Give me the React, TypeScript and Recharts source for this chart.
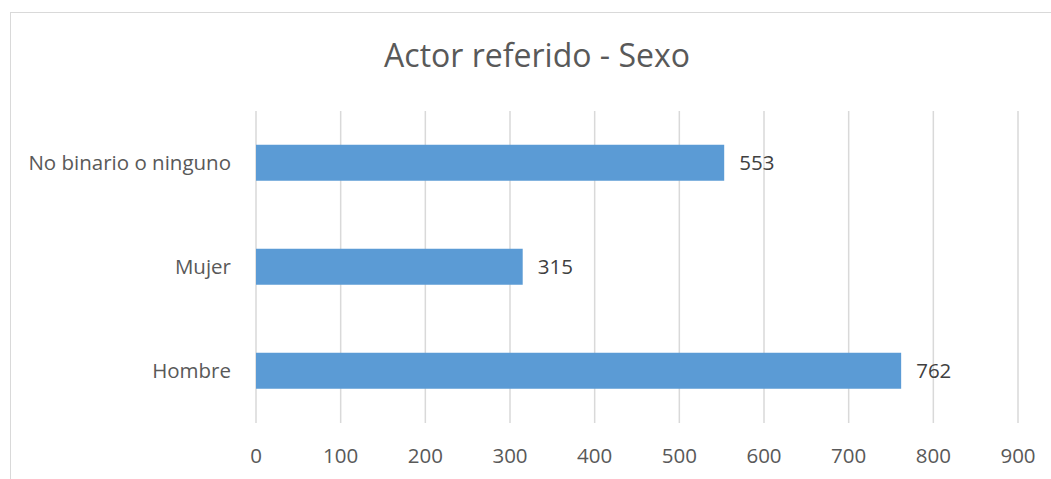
import React from "react";
import { BarChart, Bar, XAxis, YAxis, CartesianGrid, LabelList } from "recharts";

const categories = ["No binario o ninguno", "Mujer", "Hombre"];
const values = [553, 315, 762];
const xTicks = [0, 100, 200, 300, 400, 500, 600, 700, 800, 900];
const title = "Actor referido - Sexo";

const data = categories.map((name, i) => ({ name, value: values[i] }));

const FONT = "'Open Sans', sans-serif";

export default function App() {
  return (
    <div
      style={{
        position: "absolute",
        left: 0,
        top: 0,
        width: 1051,
        height: 479,
        overflow: "hidden",
        background: "#ffffff",
        fontFamily: FONT,
      }}
    >
      <div
        style={{
          position: "absolute",
          left: 10,
          top: 12,
          width: 1200,
          height: 700,
          border: "1.5px solid #D9D9D9",
          boxSizing: "border-box",
        }}
      />
      <div
        style={{
          position: "absolute",
          left: 0,
          width: 1074,
          top: 39,
          textAlign: "center",
          fontSize: 32,
          lineHeight: "32px",
          color: "#595959",
          fontFamily: FONT,
          whiteSpace: "nowrap",
        }}
      >
        {title}
      </div>
      <div style={{ position: "absolute", left: 0, top: 0 }}>
        <BarChart
          width={1051}
          height={479}
          data={data}
          layout="vertical"
          margin={{ top: 111, right: 33, left: 0, bottom: 0 }}
          barCategoryGap="32.5%"
        >
          <CartesianGrid horizontal={false} stroke="#D9D9D9" strokeWidth={1.5} />
          <XAxis
            type="number"
            domain={[0, 900]}
            ticks={xTicks}
            interval={0}
            tickLine={false}
            axisLine={false}
            tickSize={0}
            tickMargin={25}
            height={56}
            tick={{ fill: "#595959", fontSize: 20.5, fontFamily: FONT }}
          />
          <YAxis
            type="category"
            dataKey="name"
            width={256}
            tickLine={false}
            axisLine={false}
            tickSize={0}
            tickMargin={25}
            interval={0}
            tick={{ fill: "#595959", fontSize: 20.5, fontFamily: FONT }}
          />
          <Bar dataKey="value" fill="#5B9BD5" isAnimationActive={false}>
            <LabelList
              dataKey="value"
              position="right"
              offset={15}
              fill="#404040"
              fontSize={20.5}
              fontFamily={FONT}
            />
          </Bar>
        </BarChart>
      </div>
    </div>
  );
}
